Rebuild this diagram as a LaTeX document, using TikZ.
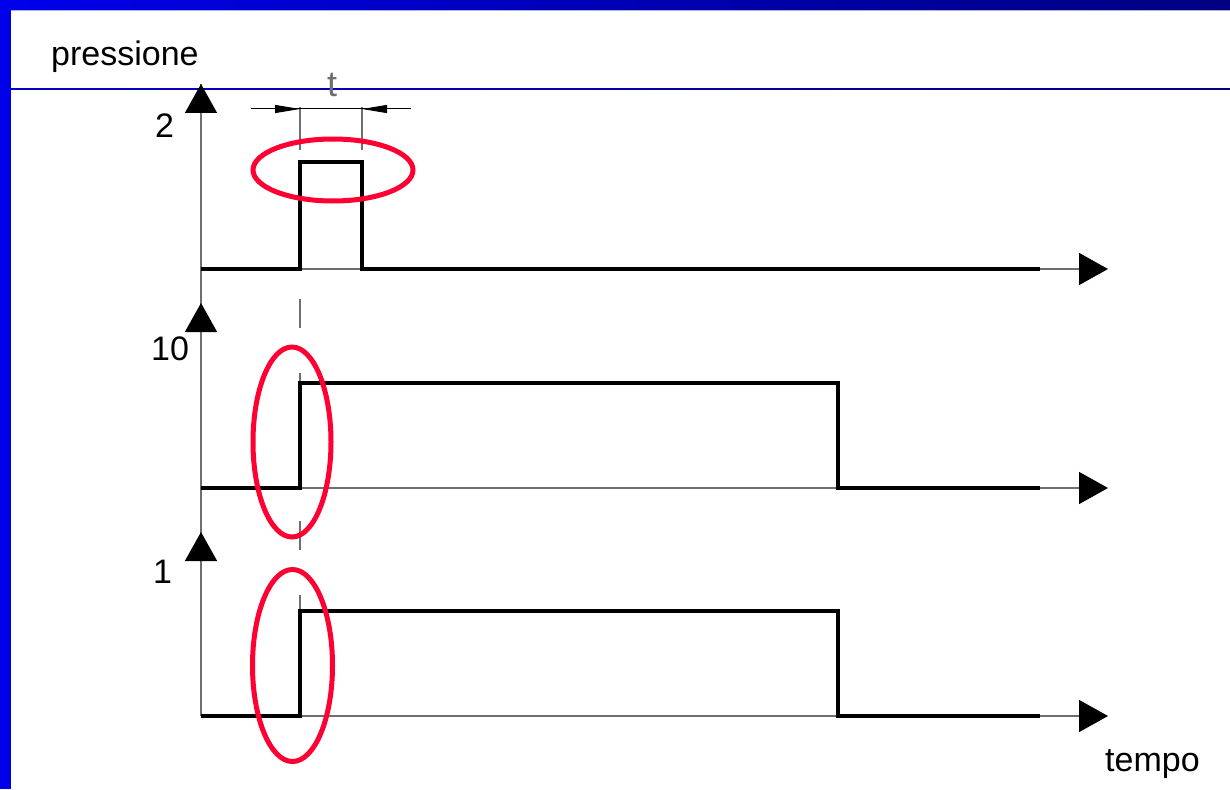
\documentclass[tikz,border=0pt]{standalone}
\usepackage{fontspec}
\setmainfont{Liberation Sans}
\usetikzlibrary{arrows.meta}
\definecolor{ringred}{RGB}{255,0,51}
\definecolor{axisgray}{RGB}{110,110,110}
\definecolor{bandblue}{RGB}{0,0,235}
\definecolor{bandnavy}{RGB}{0,0,128}
\definecolor{linelight}{RGB}{175,175,220}
\begin{document}
\begin{tikzpicture}[x=1pt,y=-1pt,
  axisline/.style={draw=axisgray,line width=1.5pt},
  axistip/.style={axisline,-{Triangle[length=29pt,width=32pt,color=black]}},
  signal/.style={draw=black,line width=4pt,line join=miter},
  ring/.style={draw=ringred,line width=5pt},
  extline/.style={draw=axisgray,line width=1.3pt},
  dimline/.style={draw=black,line width=1pt},
  dimtip/.style={dimline,-{Triangle[length=25pt,width=8pt]}},
  guide/.style={draw=axisgray,line width=1.3pt,dash pattern=on 29pt off 45pt},
  lbl/.style={inner sep=0pt,anchor=base west,font=\fontsize{34}{40}\selectfont}]
\useasboundingbox (0,0) rectangle (1230,789);
% frame
\shade[left color=bandblue,right color=bandnavy] (0,0) rectangle (1230,10);
\fill[bandblue] (0,0) rectangle (11,789);
\draw[linelight,line width=1pt] (11,10.5) -- (1230,10.5);
\shade[left color=bandblue!85!black,right color=bandnavy] (11,88.3) rectangle (1230,90);
% title texts
\node[lbl] (lp) at (51,66) {pressione};
\node[lbl] (lt) at (1105,771) {tempo};
\node[lbl] (l2) at (155,137) {2};
\node[lbl] (l10) at (151,360) {10};
\node[lbl] (l1) at (153,583) {1};
% axes
\draw[axisline] (201,716) -- (201,84);
\draw[axistip] (201,269) -- (201,84);
\draw[axistip] (201,488) -- (201,303);
\draw[axistip] (201,716) -- (201,532);
\draw[axistip] (201,269) -- (1108,269);
\draw[axistip] (201,488) -- (1108,488);
\draw[axistip] (201,716) -- (1108,716);
% guide dashed line
\draw[guide] (300,299) -- (300,700);
% dimension
\draw[extline] (300,107) -- (300,150);
\draw[extline] (362,107) -- (362,150);
\draw[dimline] (251,109) -- (411,109);
\draw[dimtip] (251,109) -- (300,109);
\draw[dimtip] (411,109) -- (362,109);
\node[inner sep=0pt,anchor=base,text=axisgray,font=\fontsize{36}{40}\selectfont] (tl) at (332,96) {t};
% signals
\draw[signal] (201,269) -- (300,269) -- (300,162) -- (362,162) -- (362,269) -- (1040,269);
\draw[signal] (201,488) -- (300,488) -- (300,383) -- (838,383) -- (838,488) -- (1040,488);
\draw[signal] (201,716) -- (300,716) -- (300,611) -- (838,611) -- (838,716) -- (1040,716);
% rings
\draw[ring] (333,170) ellipse [x radius=80pt,y radius=31pt];
\draw[ring] (292,442) ellipse [x radius=39pt,y radius=95pt];
\draw[ring] (292.5,665.5) ellipse [x radius=40pt,y radius=96pt];
\end{tikzpicture}
\end{document}
